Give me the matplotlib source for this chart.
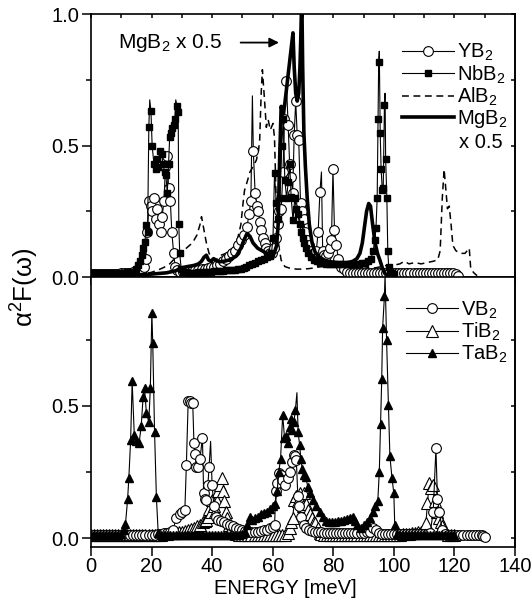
import numpy as np
import matplotlib
matplotlib.use('Agg')
import matplotlib.pyplot as plt
from matplotlib.lines import Line2D

plt.rcParams['font.family'] = ['Liberation Sans', 'DejaVu Sans']
plt.rcParams['mathtext.fontset'] = 'custom'
plt.rcParams['mathtext.rm'] = 'Liberation Sans'
plt.rcParams['mathtext.it'] = 'Liberation Sans:italic'
plt.rcParams['mathtext.bf'] = 'Liberation Sans:bold'

# ---------------- data: top panel ----------------
yb2 = [(0,.012),(1,.012),(2,.012),(3,.013),(4,.012),(5,.012),(6,.013),(7,.012),(8,.013),(9,.013),
       (10,.014),(11,.014),(12,.015),(13,.016),(14,.018),(15,.02),(16,.024),(17,.03),(17.6,.04),
       (18.1,.07),(18.6,.17),(19.2,.29),(19.7,.27),(20.3,.25),(20.8,.30),(21.4,.22),(21.9,.26),
       (22.5,.20),(23.0,.17),(23.5,.23),(24.1,.29),(24.6,.42),(25.1,.46),(25.6,.34),(26.2,.29),
       (26.7,.17),(27.3,.09),(27.8,.04),(28.5,.025),(29.5,.02),(30.5,.02),(31.5,.02),(32.5,.022),
       (33.5,.024),(34.5,.026),(35.5,.028),(36.5,.03),(37.5,.032),(38.5,.035),(39.5,.038),(40.5,.04),
       (41.5,.045),(42.5,.05),(43.5,.06),(44.5,.07),(45.5,.08),(46.5,.09),(47.5,.10),(48.5,.12),
       (49.5,.14),(50.5,.16),(51.5,.19),(52.2,.24),(52.8,.29),(53.3,.69),(53.6,.48),(54.2,.32),
       (54.8,.27),(55.3,.25),(55.8,.21),(56.3,.18),(56.8,.15),(57.3,.13),(57.8,.11),(58.3,.10),
       (59.0,.09),(59.7,.09),(60.4,.11),(61.0,.15),(61.6,.20),(62.2,.25),(62.8,.26),(63.4,.40),
       (63.9,.60),(64.5,.745),(65.1,.58),(65.6,.43),(66.1,.38),(66.6,.32),(67.1,.54),(67.6,.67),
       (68.1,.54),(68.6,.52),(69.2,.28),(69.7,.25),(70.2,.22),(70.7,.17),(71.3,.14),(72.0,.12),
       (72.8,.10),(73.6,.09),(74.4,.10),(75.0,.17),(75.6,.325),(76.1,.40),(76.5,.10),(77.1,.085),
       (77.7,.08),(78.3,.09),(78.9,.11),(79.4,.14),(79.9,.41),(80.4,.18),(81.0,.12),(81.7,.07),
       (82.5,.04),(83.5,.03),(84.5,.02),(85.5,.015),(86.5,.014),(87.5,.014),(88.5,.014),(89.5,.014),
       (90.5,.014),(91.5,.014),(92.5,.014),(93.5,.014),(94.5,.014),(95.5,.014),(96.5,.014),(97.5,.014),
       (98.5,.014),(99.5,.014),(100.5,.014),(101.5,.014),(102.5,.014),(103.5,.014),(104.5,.014),
       (105.5,.014),(106.5,.014),(107.5,.014),(108.5,.014),(109.5,.014),(110.5,.014),(111.5,.014),
       (112.5,.014),(113.5,.014),(114.5,.014),(115.5,.014),(116.5,.014),(117.5,.014),(118.5,.014),
       (119.5,.014),(120.5,.012),(121.2,.005)]
yb2_spikes = [53.3, 76.1]

nbb2 = [(0,.015),(1,.015),(2,.015),(3,.015),(4,.015),(5,.015),(6,.015),(7,.015),(8,.016),(9,.016),
        (10,.017),(11,.017),(12,.018),(13,.019),(14,.02),(14.8,.03),(15.5,.045),(16.1,.06),(16.7,.085),
        (17.2,.11),(17.8,.134),(18.3,.197),(18.7,.17),(19.1,.57),(19.4,.675),(19.8,.633),(20.2,.50),
        (20.8,.43),(21.4,.41),(21.8,.45),(22.2,.42),(22.7,.48),(23.3,.47),(23.8,.43),(24.3,.40),
        (24.7,.39),(25.2,.32),(25.6,.43),(26.0,.535),(26.5,.55),(26.9,.567),(27.3,.58),(27.7,.60),
        (28.0,.675),(28.4,.65),(28.8,.63),(29.0,.20),(29.3,.09),(29.8,.03),(30.5,.02),(31.5,.018),
        (32.5,.017),(33.5,.017),(34.5,.017),(35.5,.018),(36.5,.018),(37.5,.019),(38.5,.02),(39.5,.02),
        (40.5,.021),(41.5,.022),(42.5,.023),(43.5,.024),(44.5,.025),(45.5,.026),(46.5,.027),(47.5,.028),
        (48.5,.03),(49.5,.032),(50.5,.035),(51.3,.038),(52.2,.045),(53.2,.05),(54.2,.055),(55.2,.06),
        (56.2,.065),(57.2,.07),(58.2,.075),(59.0,.08),(59.6,.09),(60.1,.15),(60.6,.395),(61.2,.28),
        (61.8,.22),(62.4,.30),(63.0,.50),(63.5,.60),(64.0,.37),(64.6,.30),(65.1,.36),(65.6,.43),
        (66.1,.305),(66.7,.216),(67.3,.30),(67.8,.26),(68.3,.24),(68.9,.20),(69.4,.17),(70.0,.15),
        (70.5,.13),(71.1,.11),(71.8,.09),(72.6,.075),(73.5,.065),(74.5,.06),(75.5,.055),(76.5,.052),
        (77.5,.05),(78.5,.05),(79.5,.05),(80.5,.05),(81.5,.05),(82.5,.05),(83.5,.05),(84.5,.048),
        (85.5,.048),(86.5,.048),(87.5,.05),(88.5,.05),(89.5,.052),(90.5,.055),(91.5,.06),(92.5,.07),
        (93.2,.10),(93.7,.14),(94.1,.185),(94.5,.30),(94.8,.60),(95.0,.82),(95.2,.86),(95.5,.55),
        (95.8,.41),(96.2,.33),(96.5,.34),(96.9,.655),(97.1,.70),(97.3,.45),(97.7,.30),(98.0,.10),
        (98.3,.04),(98.8,.02),(99.5,.015),(100.2,.012)]
nbb2_spikes = [19.4, 28.0, 95.2, 97.1]

alb2 = [(0,.003),(5,.004),(10,.006),(15,.01),(18,.013),(20,.018),(22,.026),(24,.036),(26,.05),
        (28,.075),(30,.095),(32,.115),(33.5,.13),(35,.16),(36,.20),(36.5,.23),(37.3,.18),(38.1,.13),
        (39,.09),(40.3,.064),(41.5,.068),(43,.083),(44.5,.09),(46,.10),(47.5,.12),(48.5,.15),(49.5,.20),
        (50.2,.28),(50.7,.33),(51.5,.36),(52.5,.40),(53.5,.42),(54.6,.445),(55.3,.48),(55.7,.52),
        (56.2,.70),(56.6,.79),(57.3,.675),(57.9,.57),(58.5,.60),(59.2,.56),(60.1,.585),(60.6,.53),
        (61.2,.27),(62.0,.12),(62.8,.064),(64,.04),(66,.032),(68,.03),(70,.03),(72,.032),(74,.035),
        (76,.04),(78,.042),(80,.045),(82,.045),(84,.05),(86,.045),(88,.04),(90,.04),(92,.035),
        (94,.035),(96,.04),(98,.045),(100,.045),(102,.05),(103.5,.06),(105,.05),(107,.055),(109,.05),
        (111,.055),(113,.06),(114.5,.065),(115.3,.10),(116,.30),(116.6,.41),(117.2,.33),(117.7,.26),
        (118.3,.27),(118.9,.20),(119.5,.12),(120.5,.10),(122,.09),(123.5,.09),(124.9,.11),(125.4,.03),
        (126.5,.015),(127.5,.005)]

mgb2 = [(0,.004),(5,.005),(10,.006),(15,.008),(20,.011),(25,.016),(28,.024),(30,.035),(32,.04),
        (34,.044),(35.5,.05),(36.5,.06),(37.3,.075),(38.1,.083),(38.8,.065),(39.6,.06),(40.5,.07),
        (41.5,.062),(42.5,.058),(44,.06),(46,.066),(48,.08),(49.5,.11),(50.5,.14),(51.5,.165),
        (52.5,.155),(53.5,.13),(55,.11),(56.5,.10),(58,.09),(59.5,.085),(60.5,.09),(61.3,.12),
        (61.8,.20),(62.3,.45),(62.8,.65),(63.4,.62),(64.0,.66),(64.6,.72),(65.2,.78),(65.8,.84),
        (66.3,.89),(66.7,.93),(67.1,.80),(67.6,.70),(68.1,.67),(68.6,.70),(69.0,.80),(69.3,.92),
        (69.6,1.08),(69.9,.80),(70.3,.55),(70.8,.42),(71.4,.30),(72.1,.20),(73.0,.13),(74.0,.095),
        (75.5,.075),(77,.065),(79,.058),(81,.055),(83,.052),(85,.055),(86.5,.06),(87.8,.07),
        (88.8,.09),(89.6,.13),(90.3,.19),(91.0,.25),(91.7,.28),(92.3,.27),(93.0,.20),(93.8,.13),
        (94.6,.09),(95.4,.064),(96.2,.035),(97.0,.014),(98.0,.005)]

# ---------------- data: bottom panel ----------------
vb2 = [(0,.012),(1,.012),(2,.012),(3,.012),(4,.012),(5,.012),(6,.012),(7,.012),(8,.012),(9,.012),
       (10,.012),(11,.012),(12,.012),(13,.012),(14,.012),(15,.012),(16,.012),(17,.012),(18,.013),
       (19,.013),(20,.013),(21,.014),(22,.015),(23,.016),(24,.018),(25,.02),(26,.024),(27,.03),
       (28.2,.076),(29.3,.09),(30.2,.10),(31.0,.107),(31.5,.278),(32.1,.52),(32.6,.517),(33.1,.51),
       (33.6,.51),(34.0,.36),(34.3,.32),(34.8,.27),(35.4,.27),(36.0,.30),(36.8,.38),(37.2,.17),
       (37.6,.15),(38.1,.145),(38.6,.20),(39.0,.27),(39.5,.366),(40.0,.20),(40.6,.12),(41.2,.08),
       (42,.07),(43,.065),(44,.06),(45,.055),(46,.05),(47,.045),(48,.04),(49,.035),(50,.03),
       (51,.028),(52,.025),(53,.024),(54,.024),(55,.025),(56,.027),(57,.03),(58,.033),(59,.038),
       (60,.044),(60.6,.05),(61.1,.18),(61.5,.208),(62.0,.246),(62.6,.24),(63.2,.22),(64.0,.20),
       (65.0,.227),(65.8,.25),(66.5,.29),(66.9,.315),(67.4,.31),(67.8,.297),(68.3,.16),(68.8,.12),
       (69.5,.08),(70.3,.05),(71.1,.038),(72,.03),(73,.028),(74,.025),(75,.024),(76,.022),(77,.02),
       (78,.02),(79,.02),(80,.02),(81,.02),(82,.02),(83,.02),(84,.02),(85,.02),(86,.02),(87,.02),
       (88,.02),(89,.02),(90,.02),(91,.022),(92,.025),(93,.04),(94,.03),(95,.02),(96,.015),(97,.015),
       (98,.015),(99,.015),(100,.015),(101,.015),(102,.015),(103,.015),(104,.015),(105,.015),
       (106,.015),(107,.015),(108,.015),(109,.015),(110,.015),(111,.015),(112,.02),(113,.10),
       (113.9,.34),(114.4,.15),(115,.10),(116,.03),(117,.015),(118,.013),(119,.012),(120,.012),
       (121,.012),(122,.012),(123,.012),(124,.012),(125,.012),(126,.012),(127,.012),(128,.012),
       (129,.012),(129.5,.01),(130.2,.005)]
vb2_spikes = [39.5]

tib2 = [(0,.012),(1,.012),(2,.012),(3,.012),(4,.012),(5,.012),(6,.012),(7,.012),(8,.012),(9,.012),
        (10,.012),(11,.012),(12,.012),(13,.012),(14,.012),(15,.012),(16,.012),(17,.012),(18,.012),
        (19,.012),(20,.012),(21,.012),(22,.013),(23,.014),(24,.015),(25,.016),(26,.018),(27,.019),
        (28,.02),(29,.022),(30,.025),(31,.027),(32,.03),(33,.035),(34,.04),(35,.045),(36,.05),
        (37,.06),(37.5,.065),(38.0,.07),(38.5,.08),(39.0,.11),(39.5,.10),(40.0,.145),(40.5,.12),
        (41.0,.10),(41.5,.14),(42.0,.18),(42.5,.20),(43.1,.227),(43.6,.18),(44.0,.14),(44.5,.10),
        (45.0,.076),(45.5,.05),(46,.03),(47,.02),(48,.015),(49,.012),(50,.012),(51,.012),(52,.012),
        (53,.012),(54,.012),(55,.012),(56,.012),(57,.012),(58,.012),(59,.012),(60,.012),(61,.012),
        (62,.012),(63,.012),(64,.013),(65,.02),(65.6,.04),(66.1,.06),(66.6,.076),(67.2,.145),
        (67.8,.16),(68.3,.14),(68.9,.171),(69.4,.14),(70.0,.12),(70.5,.171),(71.1,.13),(71.6,.107),
        (72.3,.09),(73.0,.076),(73.6,.06),(74.1,.057),(74.8,.04),(75.5,.02),(76,.015),(77,.012),
        (78,.012),(79,.012),(80,.012),(81,.012),(82,.012),(83,.012),(84,.012),(85,.012),(86,.012),
        (87,.012),(88,.012),(89,.012),(90,.012),(91,.012),(92,.012),(93,.012),(94,.012),(95,.012),
        (96,.012),(97,.012),(98,.012),(99,.012),(100,.012),(101,.013),(102,.014),(103,.015),
        (104,.016),(105,.017),(106,.018),(107,.02),(108,.022),(109,.025),(110,.03),(110.6,.057),
        (111.1,.133),(111.7,.208),(112.3,.19),(113.0,.20),(113.5,.14),(114.2,.10),(115.0,.076),
        (115.5,.06),(116.0,.045),(117,.02),(118,.012),(119,.012),(120,.012)]

tab2 = [(0,.012),(1,.012),(2,.012),(3,.012),(4,.012),(5,.012),(6,.012),(7,.012),(8,.012),(9,.013),
        (10,.015),(10.8,.03),(11.4,.054),(12.1,.148),(12.5,.227),(13.1,.372),(13.6,.593),(14.3,.39),
        (15.0,.366),(15.9,.36),(16.6,.425),(17.2,.533),(17.7,.566),(18.3,.473),(19.1,.44),(19.6,.568),
        (20.1,.852),(20.4,.736),(21.0,.40),(21.6,.155),(22.2,.02),(23,.012),(24,.012),(25,.012),
        (26,.012),(27,.012),(28,.012),(29,.012),(30,.012),(31,.012),(32,.012),(33,.012),(34,.012),
        (35,.012),(36,.012),(37,.012),(38,.012),(39,.012),(40,.012),(41,.012),(42,.012),(43,.012),
        (44,.012),(45,.012),(46,.012),(47,.012),(48,.012),(49,.013),(50,.015),(51,.025),(51.6,.05),
        (52.4,.082),(53.2,.07),(54,.075),(55,.08),(56,.09),(57,.095),(58,.10),(59,.11),(60,.12),
        (60.8,.13),(61.5,.18),(62.0,.25),(62.6,.30),(63.3,.467),(63.9,.38),(64.5,.385),(65.0,.36),
        (65.6,.42),(66.1,.45),(66.5,.41),(67.0,.44),(67.5,.486),(68.0,.55),(68.4,.40),(68.9,.353),
        (69.3,.30),(69.8,.26),(70.3,.24),(70.9,.23),(71.6,.195),(72.4,.17),(73.3,.145),(74.4,.12),
        (75.5,.10),(76.5,.08),(77.5,.065),(78.5,.06),(79.5,.06),(80.5,.062),(81.5,.065),(82.5,.065),
        (83.5,.07),(84.5,.072),(85.5,.078),(86.4,.082),(87.2,.065),(88.0,.05),(89.0,.04),(90,.05),
        (91,.06),(92,.075),(93,.10),(93.8,.12),(94.7,.14),(95.2,.25),(95.6,.43),(96.0,.60),
        (96.3,.795),(96.9,.915),(97.1,1.0),(97.6,.75),(98.2,.505),(98.7,.31),(99.4,.227),(100.0,.17),
        (100.3,.05),(101,.015),(102,.012),(103,.012),(104,.012),(105,.012),(106,.012),(107,.012),
        (108,.012),(109,.012),(110,.012),(111,.012),(112,.012),(113,.012),(114,.012),(115,.012),
        (116,.012),(117,.012),(118,.012),(119,.012),(120,.012)]
tab2_spikes = [68.0, 97.1]

top_labels = ['YB$_2$', 'NbB$_2$', 'AlB$_2$', 'MgB$_2$']
bot_labels = ['VB$_2$', 'TiB$_2$', 'TaB$_2$']
xticks = [0, 20, 40, 60, 80, 100, 120, 140]
yticks = [0.0, 0.5, 1.0]


def xy(pairs):
    a = np.array(pairs, dtype=float)
    return a[:, 0], a[:, 1]


def mask(xs, spikes):
    return [not any(abs(x - s) < 1e-9 for s in spikes) for x in xs]


FS = 14.5
fig = plt.figure(figsize=(5.32, 6.01), dpi=100)
ax1 = fig.add_axes([0.171, 0.5391, 0.797, 0.4368])
ax2 = fig.add_axes([0.171, 0.0899, 0.797, 0.4493])

lw_thin = 0.8
# ---- top panel
x, y = xy(alb2)
ax1.plot(x, y, color='black', lw=1.1, ls=(0, (4.5, 3)), zorder=2)
x, y = xy(yb2)
ax1.plot(x, y, color='black', lw=lw_thin, marker='o', ms=7, mfc='white', mec='black', mew=0.8,
         markevery=mask(x, yb2_spikes), zorder=3)
x, y = xy(nbb2)
ax1.plot(x, y, color='black', lw=lw_thin, marker='s', ms=4.6, mfc='black', mec='black',
         markevery=mask(x, nbb2_spikes), zorder=4)
x, y = xy(mgb2)
ax1.plot(x, y, color='black', lw=2.6, zorder=5, solid_joinstyle='round')

# ---- bottom panel
x, y = xy(tib2)
ax2.plot(x, y, color='black', lw=lw_thin, marker='^', ms=8, mfc='white', mec='black', mew=0.8,
         zorder=3)
x, y = xy(vb2)
ax2.plot(x, y, color='black', lw=lw_thin, marker='o', ms=7, mfc='white', mec='black', mew=0.8,
         markevery=mask(x, vb2_spikes), zorder=4)
x, y = xy(tab2)
ax2.plot(x, y, color='black', lw=lw_thin, marker='^', ms=6, mfc='black', mec='black',
         markevery=mask(x, tab2_spikes), zorder=5)

for ax in (ax1, ax2):
    ax.set_xlim(0, 140)
    for s in ax.spines.values():
        s.set_linewidth(1.2)
    ax.yaxis.set_ticks(yticks)
    ax.yaxis.set_ticks([0.25, 0.75], minor=True)
    ax.tick_params(axis='y', which='major', direction='out', length=6.5, width=1.1,
                   labelsize=FS, pad=2, right=False)
    ax.tick_params(axis='y', which='minor', direction='out', length=3.5, width=1.1, right=False)
    ax.set_yticklabels(['0.0', '0.5', '1.0'])
    sec = ax.secondary_yaxis('right')
    sec.set_yticks([0.0, 0.25, 0.5, 0.75, 1.0])
    sec.set_yticklabels([])
    sec.tick_params(direction='in', length=3, width=1.1)
    sec.spines['right'].set_linewidth(1.2)

ax1.set_ylim(0, 1.0)
ax2.set_ylim(-0.033, 0.9875)

ax1.set_xticks(np.arange(0, 141, 10))
ax1.tick_params(axis='x', which='both', direction='in', length=3, width=1.1, bottom=False,
                top=True, labelbottom=False)
secb = ax1.secondary_xaxis('bottom')
secb.set_xticks(np.arange(0, 141, 10))
secb.set_xticklabels([])
secb.tick_params(direction='out', length=6, width=1.1)

ax2.set_xticks(xticks)
ax2.set_xticklabels([str(v) for v in xticks])
ax2.tick_params(axis='x', which='major', direction='out', length=6.5, width=1.1,
                labelsize=FS, pad=1, top=False)

# legends
h_top = [Line2D([], [], color='black', lw=lw_thin, marker='o', ms=7, mfc='white', mec='black', mew=0.8),
         Line2D([], [], color='black', lw=lw_thin, marker='s', ms=4.6, mfc='black'),
         Line2D([], [], color='black', lw=1.1, ls=(0, (4.5, 3))),
         Line2D([], [], color='black', lw=2.6)]
ax1.legend(h_top, top_labels, loc='upper left', bbox_to_anchor=(0.733, 0.895), frameon=False,
           fontsize=FS, handlelength=2.6, handletextpad=0.15, labelspacing=0.0,
           borderpad=0, borderaxespad=0)
ax1.text(121.5, 0.512, 'x 0.5', fontsize=FS, ha='left', va='center')

h_bot = [Line2D([], [], color='black', lw=lw_thin, marker='o', ms=7, mfc='white', mec='black', mew=0.8),
         Line2D([], [], color='black', lw=lw_thin, marker='^', ms=8, mfc='white', mec='black', mew=0.8),
         Line2D([], [], color='black', lw=lw_thin, marker='^', ms=6, mfc='black')]
ax2.legend(h_bot, bot_labels, loc='upper left', bbox_to_anchor=(0.742, 0.917), frameon=False,
           fontsize=FS, handlelength=2.6, handletextpad=0.15, labelspacing=0.02,
           borderpad=0, borderaxespad=0)

# annotation
ax1.annotate('', xy=(63.0, 0.893), xytext=(48.5, 0.893),
             arrowprops=dict(arrowstyle='-|>', color='black', lw=1.3, mutation_scale=14))
ax1.text(9.0, 0.893, 'MgB$_2$ x 0.5', fontsize=FS + 0.5, ha='left', va='center')

fig.text(25 / 532, 1 - 287 / 601, r'$\mathregular{\alpha^2}$F($\mathregular{\omega}$)',
         rotation=90, ha='center', va='center', fontsize=18.5)
fig.text(0.536, 1 - 589 / 601, 'ENERGY [meV]', ha='center', va='center', fontsize=FS)

fig.savefig('out.png', dpi=100)
